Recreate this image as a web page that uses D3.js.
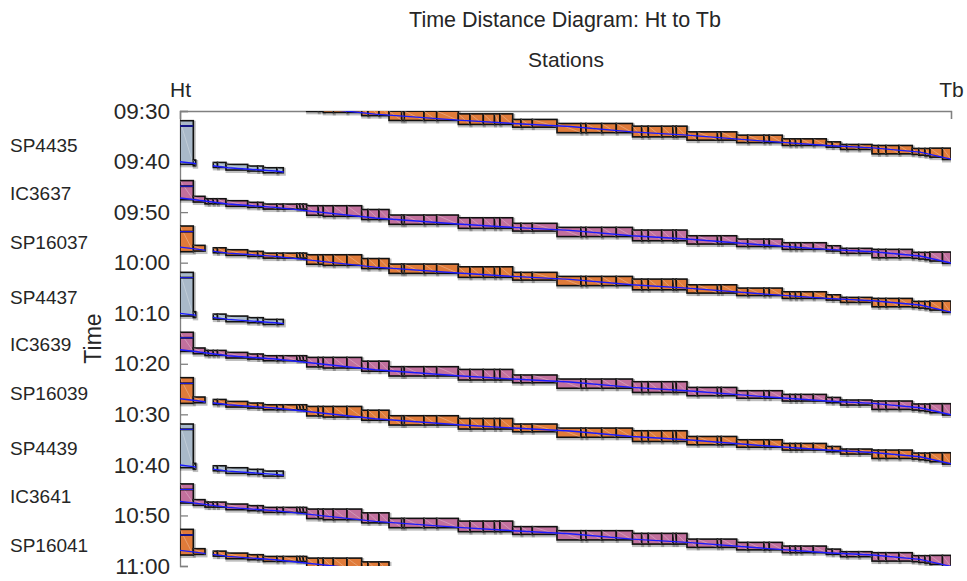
<!DOCTYPE html>
<html><head><meta charset="utf-8">
<script src="https://cdn.jsdelivr.net/npm/d3@7"></script>
<style>
body{margin:0;background:#fff}
svg{display:block}
text{font-family:"Liberation Sans",Arial,Helvetica,sans-serif;fill:#262626}
</style>
</head><body>
<svg id="chart" width="967" height="581"></svg>
<script>
// ---------------- DATA ----------------
const stations = ["Ht", "Tb"];
const stationKm = [0, 77.1];
const tickLabels = ["09:30","09:40","09:50","10:00","10:10","10:20","10:30","10:40","10:50","11:00"];

// block section boundaries (km from Ht)
const blockBounds = [0,1.33,2.5,2.83,3.33,3.75,4.6,6.77,7.77,8.33,9.7,10.33,11.7,12.0,12.33,12.67,
  13.83,14.33,15.33,16.7,18.17,18.8,19.9,20.9,22.17,22.43,24.4,25.67,27.83,29.0,30.33,31.45,32.0,
  33.27,34.1,35.23,37.7,40.1,40.6,42.17,43.63,45.25,46.17,46.83,48.17,49.3,49.63,50.7,51.73,53.75,
  54.13,55.67,56.77,58.4,58.93,60.23,61.0,61.55,62.1,63.33,64.63,65.23,66.05,66.67,67.87,69.2,
  69.85,70.6,71.9,73.23,73.88,74.5,75.0,76.25,77.1];

// occupation start / end of each block section, minutes relative to departure from Ht
// (section 0 = station block at Ht, given per train)
const blockOccStart = [null,-0.34,0.14,0.14,0.14,0.14,0.53,0.85,0.85,1.19,1.19,1.19,1.19,1.19,1.19,
  1.52,1.52,1.52,1.52,1.52,2.27,2.27,2.27,3.36,3.36,3.36,3.36,3.36,3.90,3.90,3.90,3.90,3.90,
  5.00,5.00,5.00,5.80,5.80,5.80,5.80,5.80,6.33,6.33,6.33,6.33,6.33,6.33,7.46,7.46,7.46,7.46,
  8.11,8.11,8.11,8.11,8.84,8.84,8.84,8.84,8.84,9.44,9.44,9.95,9.95,9.95,10.15,10.15,10.15,10.15,
  10.74,10.74,10.74,10.68,10.68];
const blockOccEnd = [null,0.79,1.13,1.13,1.13,1.13,1.64,1.84,1.84,2.18,2.18,2.18,2.18,2.18,2.18,
  3.40,3.40,3.62,3.62,3.62,4.25,4.25,4.25,5.20,5.20,5.20,5.20,5.20,5.99,5.99,5.99,5.99,5.99,
  6.53,6.53,6.53,7.62,7.62,7.62,7.62,7.62,8.45,8.45,8.45,8.45,8.45,8.45,9.10,9.10,9.10,9.10,
  9.59,9.59,9.59,9.59,10.15,10.15,10.15,10.15,10.15,10.48,10.48,10.94,10.94,10.94,11.81,11.81,11.81,11.81,
  11.93,12.07,12.20,12.46,12.92];

// running trajectory (km, minutes after departure)
const trajKm  = [0, 1.3, 4.8, 9.5, 19.5, 27.8, 33.3, 39.0, 45.2, 50.7, 58.5, 64.7, 69.3, 74.0, 77.1];
const trajMin = [0, 0.30, 1.19, 1.84, 3.96, 5.14, 5.80, 6.39, 7.46, 8.11, 9.30, 10.15, 10.62, 11.47, 12.86];

// trains
const trainNames = ["SP16035","SP4435","IC3637","SP16037","SP4437","IC3639","SP16039","SP4439","IC3641","SP16041"];
const trainType  = ["SP160","SP44","IC","SP160","SP44","IC","SP160","SP44","IC","SP160"];
const trainOcc   = ["09:22:30","09:31:55","09:43:46","09:52:45","10:01:55","10:13:46","10:22:45","10:31:55","10:43:46","10:52:45"];
const trainArr   = ["09:23:37","09:32:58","09:44:52","09:53:52","10:02:58","10:14:52","10:23:52","10:32:58","10:44:52","10:53:52"];
const trainDep   = ["09:26:40","09:40:02","09:47:13","09:56:55","10:10:02","10:17:13","10:26:55","10:40:02","10:47:13","10:56:55"];
const trainClear = ["09:27:35","09:40:33","09:47:33","09:57:50","10:10:33","10:17:33","10:27:50","10:40:33","10:47:33","10:57:50"];

const typeColor  = {SP44:"#a9b9c9", IC:"#c2709d", SP160:"#e07b3a"};
// km ranges over which each train type occupies blocks
const typeRanges = {SP44:[[0,1.57],[3.33,10.33]], IC:[[0,77.1]], SP160:[[0,2.5],[3.33,77.1]]};

// ---------------- CHART ----------------
const W = 967, H = 581;
const M = {left:180, right:16, top:111, bottom:15};
const svg = d3.select("#chart");
const parse = d3.timeParse("%H:%M:%S");
const parseHM = d3.timeParse("%H:%M");

const x = d3.scaleLinear().domain([stationKm[0], stationKm[1]]).range([M.left, W - M.right]);
const y = d3.scaleTime().domain([parseHM(tickLabels[0]), parseHM(tickLabels[tickLabels.length-1])])
  .range([M.top, H - M.bottom]);

const addMin = (d, m) => new Date(d.getTime() + m * 60000);

const defs = svg.append("defs");
defs.append("clipPath").attr("id","plotclip").append("rect")
  .attr("x", x.range()[0]).attr("y", y.range()[0])
  .attr("width", x.range()[1] - x.range()[0]).attr("height", y.range()[1] - y.range()[0]);

// titles
svg.append("text").attr("x", 565).attr("y", 27).attr("text-anchor","middle")
  .style("font-size","21.5px").text("Time Distance Diagram: Ht to Tb");
svg.append("text").attr("x", 566).attr("y", 67).attr("text-anchor","middle")
  .style("font-size","21px").text("Stations");

// top station axis
const xAxis = d3.axisTop(x).tickValues(stationKm).tickFormat((d,i)=>stations[i]).tickSize(-8).tickPadding(14);
const gx = svg.append("g").attr("transform",`translate(0,${M.top})`).call(xAxis);
gx.select(".domain").attr("stroke","#808080").attr("stroke-width",1.3);
gx.selectAll(".tick line").attr("stroke","#808080").attr("stroke-width",1.3);
gx.selectAll(".tick text").style("font-size","21px").attr("fill","#262626").attr("font-family",null);

// left time axis
const yTicks = tickLabels.map(t => parseHM(t));
const yAxis = d3.axisLeft(y).tickValues(yTicks).tickFormat((d,i)=>tickLabels[i]).tickSize(-8).tickPadding(10);
const gy = svg.append("g").attr("transform",`translate(${M.left},0)`).call(yAxis);
gy.select(".domain").attr("stroke","#808080").attr("stroke-width",1.3);
gy.selectAll(".tick line").attr("stroke","#808080").attr("stroke-width",1.3);
gy.selectAll(".tick text").style("font-size","22.5px").attr("fill","#262626").attr("font-family",null);

svg.append("text").attr("transform",`translate(101,${(y.range()[0]+y.range()[1])/2}) rotate(-90)`)
  .attr("text-anchor","middle").style("font-size","23px").text("Time");

// blocks
const plot = svg.append("g").attr("clip-path","url(#plotclip)");

trainNames.forEach((name, ti) => {
  const type = trainType[ti];
  const dep = parse(trainDep[ti]);
  const occ = parse(trainOcc[ti]);
  const arr = parse(trainArr[ti]);
  const clr = parse(trainClear[ti]);
  const ranges = typeRanges[type];
  const blocks = [];
  for (let i = 0; i < blockBounds.length - 1; i++) {
    const t0 = i === 0 ? occ : addMin(dep, blockOccStart[i]);
    const t1 = i === 0 ? clr : addMin(dep, blockOccEnd[i]);
    ranges.forEach(r => {
      const a = Math.max(blockBounds[i], r[0]), b = Math.min(blockBounds[i+1], r[1]);
      if (b - a > 1e-6) blocks.push({k0:a, k1:b, t0, t1});
    });
  }
  const g = plot.append("g");
  // shadow
  g.selectAll("rect.sh").data(blocks).join("rect").attr("class","sh")
    .attr("x", d => x(d.k0) + 1).attr("y", d => y(d.t0) + 1.5)
    .attr("width", d => x(d.k1) - x(d.k0)).attr("height", d => y(d.t1) - y(d.t0))
    .attr("fill","none").attr("stroke","#000").attr("stroke-opacity",0.25).attr("stroke-width",3);
  g.selectAll("rect.bk").data(blocks).join("rect").attr("class","bk")
    .attr("x", d => x(d.k0)).attr("y", d => y(d.t0))
    .attr("width", d => x(d.k1) - x(d.k0)).attr("height", d => y(d.t1) - y(d.t0))
    .attr("fill", typeColor[type]).attr("stroke","#111").attr("stroke-width",1.6);
  g.selectAll("line.dg").data(blocks).join("line").attr("class","dg")
    .attr("x1", d => x(d.k0)).attr("y1", d => y(d.t0))
    .attr("x2", d => x(d.k1)).attr("y2", d => y(d.t1))
    .attr("stroke","#fff").attr("stroke-opacity",0.35).attr("stroke-width",0.8);
  // arrival line in station block
  g.append("line").attr("x1", x(blockBounds[0])).attr("x2", x(blockBounds[1]))
    .attr("y1", y(arr)).attr("y2", y(arr)).attr("stroke","#111").attr("stroke-width",2);
  g.append("line").attr("x1", x(blockBounds[0])).attr("x2", x(blockBounds[1]))
    .attr("y1", y(arr)).attr("y2", y(arr)).attr("stroke","#1a1aff").attr("stroke-width",1);
  // trajectory, clipped to the occupied ranges
  const cid = "tc" + ti;
  const cp = defs.append("clipPath").attr("id", cid);
  ranges.forEach(r => cp.append("rect").attr("x", x(r[0]) - 0.5).attr("y", 0)
    .attr("width", x(r[1]) - x(r[0]) + 1).attr("height", H));
  const line = d3.line().x(d => x(d[0])).y(d => y(addMin(dep, d[1])));
  g.append("path").datum(trajKm.map((k, j) => [k, trajMin[j]]))
    .attr("clip-path", `url(#${cid})`)
    .attr("d", line).attr("fill","none").attr("stroke","#1a1aff").attr("stroke-width",1.4);

  // train label
  if (occ >= y.domain()[0]) {
    const mid = new Date((occ.getTime() + clr.getTime()) / 2);
    svg.append("text").attr("x", 10).attr("y", y(mid) + 3).attr("dy","0.35em")
      .style("font-size","19px").text(name);
  }
});
</script>
</body></html>
